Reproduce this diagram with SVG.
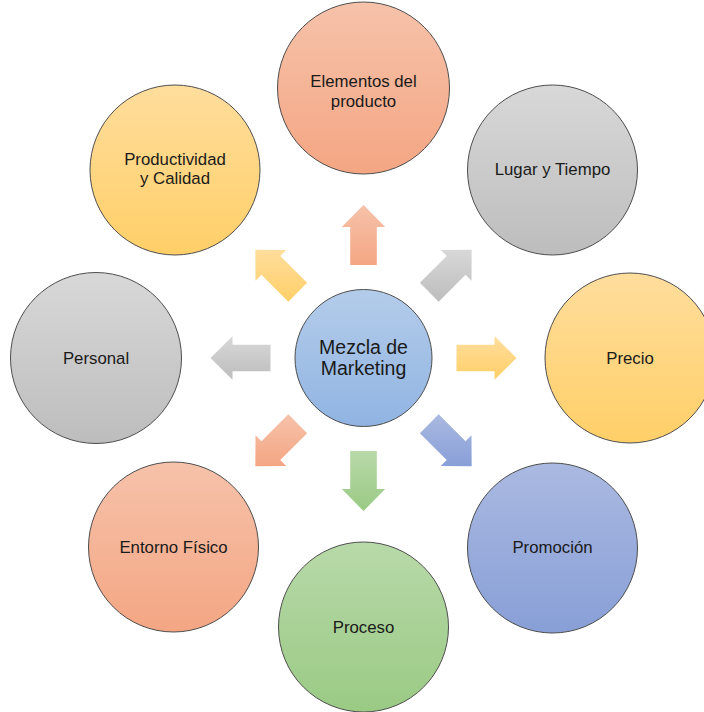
<svg xmlns="http://www.w3.org/2000/svg" width="704" height="712" viewBox="0 0 704 712">
  <defs>
    <linearGradient id="gOrange" x1="0" y1="0" x2="0" y2="1">
      <stop offset="0" stop-color="#F6C2AA"/>
      <stop offset="1" stop-color="#F4A683"/>
    </linearGradient>
    <linearGradient id="gGray" x1="0" y1="0" x2="0" y2="1">
      <stop offset="0" stop-color="#D8D8D8"/>
      <stop offset="1" stop-color="#BDBDBD"/>
    </linearGradient>
    <linearGradient id="gYellow" x1="0" y1="0" x2="0" y2="1">
      <stop offset="0" stop-color="#FFDD9C"/>
      <stop offset="1" stop-color="#FFCF68"/>
    </linearGradient>
    <linearGradient id="gBlue" x1="0" y1="0" x2="0" y2="1">
      <stop offset="0" stop-color="#B4CCEA"/>
      <stop offset="1" stop-color="#90B4E2"/>
    </linearGradient>
    <linearGradient id="gIndigo" x1="0" y1="0" x2="0" y2="1">
      <stop offset="0" stop-color="#AAB9E1"/>
      <stop offset="1" stop-color="#889FD7"/>
    </linearGradient>
    <linearGradient id="gGreen" x1="0" y1="0" x2="0" y2="1">
      <stop offset="0" stop-color="#B8D9A9"/>
      <stop offset="1" stop-color="#9ACA84"/>
    </linearGradient>
  </defs>
  <style>
    .node { stroke: #4d4d4d; stroke-width: 1; }
    .lbl { font-family: "Liberation Sans", Arial, sans-serif; font-size: 16.8px; fill: #1a1a1a; text-anchor: middle; }
    .hub { font-size: 19.5px; }
  </style>

  <rect width="704" height="712" fill="#ffffff"/>

  <!-- block arrows radiating from the hub -->
  <g id="connectors">
    <polygon fill="url(#gOrange)" points="350.2,265 350.2,227 341.8,227 363.5,205 385.2,227 376.8,227 376.8,265"/>
    <polygon fill="url(#gGray)" points="419.86,282.83 446.73,255.96 440.79,250.02 471.69,249.81 471.48,280.71 465.54,274.77 438.67,301.64"/>
    <polygon fill="url(#gYellow)" points="456.5,344.7 494.5,344.7 494.5,336.3 516.5,358 494.5,379.7 494.5,371.3 456.5,371.3"/>
    <polygon fill="url(#gIndigo)" points="438.67,414.36 465.54,441.23 471.48,435.29 471.69,466.19 440.79,465.98 446.73,460.04 419.86,433.17"/>
    <polygon fill="url(#gGreen)" points="376.8,451 376.8,489 385.2,489 363.5,511 341.8,489 350.2,489 350.2,451"/>
    <polygon fill="url(#gOrange)" points="307.14,433.17 280.27,460.04 286.21,465.98 255.31,466.19 255.52,435.29 261.46,441.23 288.33,414.36"/>
    <polygon fill="url(#gGray)" points="270.5,371.3 232.5,371.3 232.5,379.7 210.5,358 232.5,336.3 232.5,344.7 270.5,344.7"/>
    <polygon fill="url(#gYellow)" points="288.33,301.64 261.46,274.77 255.52,280.71 255.31,249.81 286.21,250.02 280.27,255.96 307.14,282.83"/>
  </g>

  <g id="hub">
    <circle class="node" cx="363.5" cy="358" r="68.5" fill="url(#gBlue)"/>
    <text class="lbl hub" x="363.5" y="354">Mezcla de</text>
    <text class="lbl hub" x="363.5" y="375">Marketing</text>
  </g>

  <g id="elementos">
    <circle class="node" cx="363.5" cy="88" r="86" fill="url(#gOrange)"/>
    <text class="lbl" x="363.5" y="87">Elementos del</text>
    <text class="lbl" x="363.5" y="107">producto</text>
  </g>

  <g id="lugar">
    <circle class="node" cx="552.5" cy="170" r="85" fill="url(#gGray)"/>
    <text class="lbl" x="552.5" y="175">Lugar y Tiempo</text>
  </g>

  <g id="precio">
    <circle class="node" cx="630" cy="358" r="85" fill="url(#gYellow)"/>
    <text class="lbl" x="630" y="364">Precio</text>
  </g>

  <g id="promocion">
    <circle class="node" cx="552.5" cy="548" r="85" fill="url(#gIndigo)"/>
    <text class="lbl" x="552.5" y="553">Promoción</text>
  </g>

  <g id="proceso">
    <circle class="node" cx="363.5" cy="627" r="85" fill="url(#gGreen)"/>
    <text class="lbl" x="363.5" y="633">Proceso</text>
  </g>

  <g id="entorno">
    <circle class="node" cx="173.5" cy="547" r="85" fill="url(#gOrange)"/>
    <text class="lbl" x="173.5" y="553">Entorno Físico</text>
  </g>

  <g id="personal">
    <circle class="node" cx="96" cy="358" r="85.5" fill="url(#gGray)"/>
    <text class="lbl" x="96" y="364">Personal</text>
  </g>

  <g id="productividad">
    <circle class="node" cx="175" cy="170" r="85" fill="url(#gYellow)"/>
    <text class="lbl" x="175" y="165">Productividad</text>
    <text class="lbl" x="175" y="184">y Calidad</text>
  </g>
</svg>
